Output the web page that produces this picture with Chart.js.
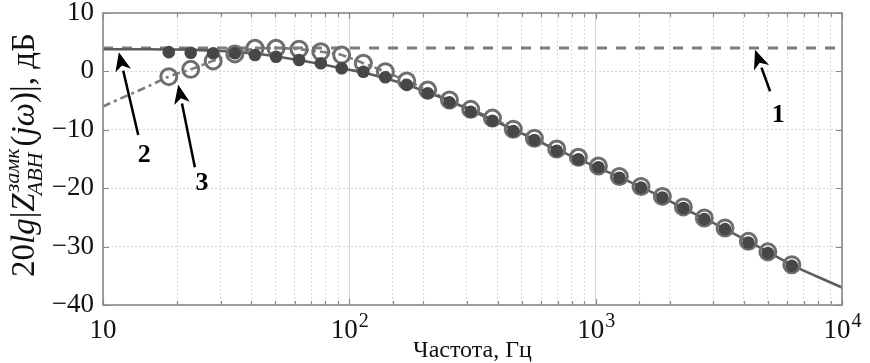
<!DOCTYPE html>
<html>
<head>
<meta charset="utf-8">
<script src="https://cdn.jsdelivr.net/npm/chart.js@4.4.1/dist/chart.umd.min.js"></script>
<style>
    html, body { margin: 0; padding: 0; background: #fff; }
    canvas { display: block; }
</style>
</head>
<body>
<canvas id="chart" width="870" height="363"></canvas>
<script>
// measured points (Hz / dB)
const pointFreq = [18.5, 22.7, 28, 34.3, 41.4, 50.4, 62.5, 76.6, 93.1, 114, 140, 171, 208, 255, 311,
    381, 463, 564, 695, 851, 1026, 1248, 1528, 1865, 2270, 2761, 3350, 4168, 5000, 6256];
const filledDb = [3.3, 3.2, 3.1, 3.1, 2.8, 2.5, 1.95, 1.4, 0.55, -0.05, -1.0, -2.3, -3.75, -5.3, -6.9,
    -8.45, -10.2, -11.75, -13.6, -15.05, -16.4, -18.2, -19.9, -21.6, -23.4, -25.3, -27.0, -29.3, -31.1, -33.3];
const openDb = [-0.9, 0.35, 1.8, 3.0, 3.95, 3.95, 3.8, 3.35, 2.8, 1.4, -0.05, -1.65, -3.2, -4.9, -6.5,
    -8.0, -9.9, -11.45, -13.3, -14.7, -16.2, -18.0, -19.7, -21.4, -23.2, -25.1, -26.8, -29.1, -30.9, -33.1];

// curve 1 (dashed)
const curve1Freq = [10, 10000];
const curve1Db = [4.0, 4.0];

// curve 2 (solid)
const curve2Freq = [10, 15, 20, 25, 30, 40, 50, 63, 80, 100, 125, 160, 200, 250, 320, 400, 500, 630,
    800, 1000, 1250, 1600, 2000, 2500, 3150, 4000, 5000, 6300, 8000, 10000];
const curve2Db = [3.8, 3.8, 3.75, 3.65, 3.5, 3.1, 2.6, 1.9, 1.1, 0.3, -0.6, -1.9, -3.3, -4.9, -6.9, -8.7,
    -10.6, -12.6, -14.5, -16.3, -18.1, -20.2, -22.2, -24.3, -26.4, -28.7, -30.9, -33.2, -35.2, -37.0];

// curve 3 (dash-dot)
const curve3Freq = [10, 12, 15, 18.5, 22.7, 28, 34.3, 41.4, 50.4, 62.5, 76.6, 93.1, 114, 140, 171, 208,
    255, 311, 381, 463, 564, 695];
const curve3Db = [-6.0, -4.5, -2.7, -0.9, 0.35, 1.8, 3.0, 3.9, 4.0, 3.8, 3.35, 2.8, 1.4, -0.05, -1.65,
    -3.2, -4.9, -6.5, -8.0, -9.9, -11.5, -13.4];

const xTickPowers = [1, 2, 3, 4];
const yMin = -40, yMax = 10, yStep = 10;

// arrows with curve numbers, in data units
const arrows = [
    { label: '1', tip: [4436, 3.7], tail: [5105, -3.4], text: [5510, -7.5] },
    { label: '2', tip: [11.6, 3.3], tail: [13.9, -10.9], text: [14.7, -14.3] },
    { label: '3', tip: [20.2, -2.3], tail: [23.6, -16.4], text: [25.2, -19.1] },
];

const serif = '"Liberation Serif", "DejaVu Serif", serif';

function toXY(xs, ys) {
    return xs.map((x, i) => ({ x: x, y: ys[i] }));
}

function isPow10(v) {
    if (!v) return false;
    const l = Math.log10(v);
    return Math.abs(l - Math.round(l)) < 1e-6;
}

function drawArrow(ctx, x0, y0, x1, y1) {
    const ang = Math.atan2(y1 - y0, x1 - x0);
    const len = 19, half = 8;
    const bx = x1 - len * Math.cos(ang), by = y1 - len * Math.sin(ang);
    ctx.strokeStyle = '#000';
    ctx.fillStyle = '#000';
    ctx.lineWidth = 2.5;
    ctx.beginPath();
    ctx.moveTo(x0, y0);
    ctx.lineTo(bx, by);
    ctx.stroke();
    ctx.beginPath();
    ctx.moveTo(x1, y1);
    ctx.lineTo(bx + half * Math.sin(ang), by - half * Math.cos(ang));
    ctx.lineTo(x1 - len * 0.72 * Math.cos(ang), y1 - len * 0.72 * Math.sin(ang));
    ctx.lineTo(bx - half * Math.sin(ang), by + half * Math.cos(ang));
    ctx.closePath();
    ctx.fill();
}

function drawYTitle(ctx, cx, cy) {
    const big = 33, small = 22;
    const parts = [
        { t: '20', it: false },
        { t: 'lg', it: true },
        { t: '|', it: false },
        { t: 'Z', it: true },
        { sup: 'замк', sub: 'ABH' },
        { t: '(', it: false },
        { t: 'j', it: true },
        { t: 'ω', it: true },
        { t: ')|, дБ', it: false },
    ];
    const fontOf = (size, it) => (it ? 'italic ' : '') + size + 'px ' + serif;
    let total = 0;
    parts.forEach(p => {
        if (p.sup) {
            ctx.font = fontOf(small, true);
            p.w = Math.max(ctx.measureText(p.sup).width, ctx.measureText(p.sub).width) + 3;
        } else {
            ctx.font = fontOf(big, p.it);
            p.w = ctx.measureText(p.t).width;
        }
        total += p.w;
    });
    ctx.save();
    ctx.translate(cx, cy);
    ctx.rotate(-Math.PI / 2);
    ctx.fillStyle = '#111';
    ctx.textBaseline = 'alphabetic';
    ctx.textAlign = 'left';
    let u = -total / 2;
    parts.forEach(p => {
        if (p.sup) {
            ctx.font = fontOf(small, true);
            ctx.fillText(p.sup, u + 1, -15);
            ctx.fillText(p.sub, u - 2, 8);
        } else {
            ctx.font = fontOf(big, p.it);
            ctx.fillText(p.t, u, 0);
        }
        u += p.w;
    });
    ctx.restore();
}

const framePlugin = {
    id: 'frame',
    afterDraw(chart) {
        const ctx = chart.ctx;
        const area = chart.chartArea;
        const xs = chart.scales.x, ys = chart.scales.y;
        ctx.save();

        // tick marks pointing inward
        ctx.strokeStyle = '#8a8a8a';
        ctx.lineWidth = 1.2;
        ctx.beginPath();
        xs.ticks.forEach(t => {
            const px = Math.round(xs.getPixelForValue(t.value)) + 0.5;
            const len = isPow10(t.value) ? 6 : 4;
            ctx.moveTo(px, area.bottom);
            ctx.lineTo(px, area.bottom - len);
            ctx.moveTo(px, area.top);
            ctx.lineTo(px, area.top + len);
        });
        ys.ticks.forEach(t => {
            const py = Math.round(ys.getPixelForValue(t.value)) + 0.5;
            ctx.moveTo(area.left, py);
            ctx.lineTo(area.left + 6, py);
            ctx.moveTo(area.right, py);
            ctx.lineTo(area.right - 6, py);
        });
        ctx.stroke();

        // box
        ctx.strokeStyle = '#8a8a8a';
        ctx.lineWidth = 1.6;
        ctx.strokeRect(area.left, area.top, area.right - area.left, area.bottom - area.top);

        // x tick labels 10^n
        ctx.fillStyle = '#111';
        ctx.textBaseline = 'alphabetic';
        xTickPowers.forEach(p => {
            const px = xs.getPixelForValue(Math.pow(10, p));
            ctx.font = '27px ' + serif;
            const wBase = ctx.measureText('10').width;
            let wExp = 0;
            if (p > 1) {
                ctx.font = '20px ' + serif;
                wExp = ctx.measureText(String(p)).width;
            }
            const x0 = px - (wBase + wExp) / 2;
            ctx.font = '27px ' + serif;
            ctx.textAlign = 'left';
            ctx.fillText('10', x0, 338);
            if (p > 1) {
                ctx.font = '20px ' + serif;
                ctx.fillText(String(p), x0 + wBase + 1, 327);
            }
        });

        // axis titles
        ctx.font = '24px ' + serif;
        ctx.textAlign = 'center';
        ctx.fillText('Частота, Гц', (area.left + area.right) / 2, 357);
        drawYTitle(ctx, 34, 155);

        // arrows and curve numbers
        arrows.forEach(a => {
            drawArrow(ctx,
                xs.getPixelForValue(a.tail[0]), ys.getPixelForValue(a.tail[1]),
                xs.getPixelForValue(a.tip[0]), ys.getPixelForValue(a.tip[1]));
            ctx.font = 'bold 26px ' + serif;
            ctx.fillStyle = '#000';
            ctx.textAlign = 'center';
            ctx.textBaseline = 'middle';
            ctx.fillText(a.label, xs.getPixelForValue(a.text[0]), ys.getPixelForValue(a.text[1]));
        });
        ctx.restore();
    }
};

const data = {
    datasets: [
        {
            label: 'filled',
            data: toXY(pointFreq, filledDb),
            showLine: false,
            pointRadius: 6.3,
            pointBackgroundColor: '#474747',
            pointBorderWidth: 0,
            order: 0,
        },
        {
            label: 'open',
            data: toXY(pointFreq, openDb),
            showLine: false,
            pointRadius: 8,
            pointBorderWidth: 3,
            pointBorderColor: '#6e6e6e',
            pointBackgroundColor: 'rgba(0,0,0,0)',
            order: 1,
        },
        {
            label: '2',
            data: toXY(curve2Freq, curve2Db),
            showLine: true,
            borderColor: '#5c5c5c',
            borderWidth: 2.6,
            pointRadius: 0,
            cubicInterpolationMode: 'monotone',
            order: 2,
        },
        {
            label: '1',
            data: toXY(curve1Freq, curve1Db),
            showLine: true,
            borderColor: '#7d7d7d',
            borderWidth: 3,
            borderDash: [10, 9],
            pointRadius: 0,
            order: 3,
        },
        {
            label: '3',
            data: toXY(curve3Freq, curve3Db),
            showLine: true,
            borderColor: '#7d7d7d',
            borderWidth: 2.6,
            borderDash: [8, 4, 3, 4],
            pointRadius: 0,
            cubicInterpolationMode: 'monotone',
            order: 4,
        },
    ],
};

new Chart(document.getElementById('chart').getContext('2d'), {
    type: 'scatter',
    data: data,
    plugins: [framePlugin],
    options: {
        responsive: false,
        animation: false,
        layout: { padding: { top: 13, right: 28, left: 0, bottom: 0 } },
        plugins: { legend: { display: false }, tooltip: { enabled: false } },
        scales: {
            x: {
                type: 'logarithmic',
                min: 10,
                max: 10000,
                afterFit: s => { s.height = 58; s.paddingLeft = 0; s.paddingRight = 0; },
                ticks: { display: false, autoSkip: false },
                grid: {
                    drawTicks: false,
                    lineWidth: 1,
                    color: c => (c.tick && isPow10(c.tick.value)) ? '#d6d6d6' : '#dadada',
                },
                border: {
                    display: false,
                    dash: c => (c.tick && isPow10(c.tick.value)) ? [] : [2, 2],
                },
            },
            y: {
                min: yMin,
                max: yMax,
                afterFit: s => { s.width = 103; s.paddingTop = 0; s.paddingBottom = 0; },
                ticks: {
                    stepSize: yStep,
                    padding: 9,
                    color: '#111',
                    font: { family: serif, size: 27 },
                    callback: v => (v < 0 ? '\u2212' + Math.abs(v) : String(v)),
                },
                grid: { drawTicks: false, lineWidth: 1, color: '#d6d6d6' },
                border: { display: false, dash: [2, 2] },
            },
        },
    },
});
</script>
</body>
</html>
